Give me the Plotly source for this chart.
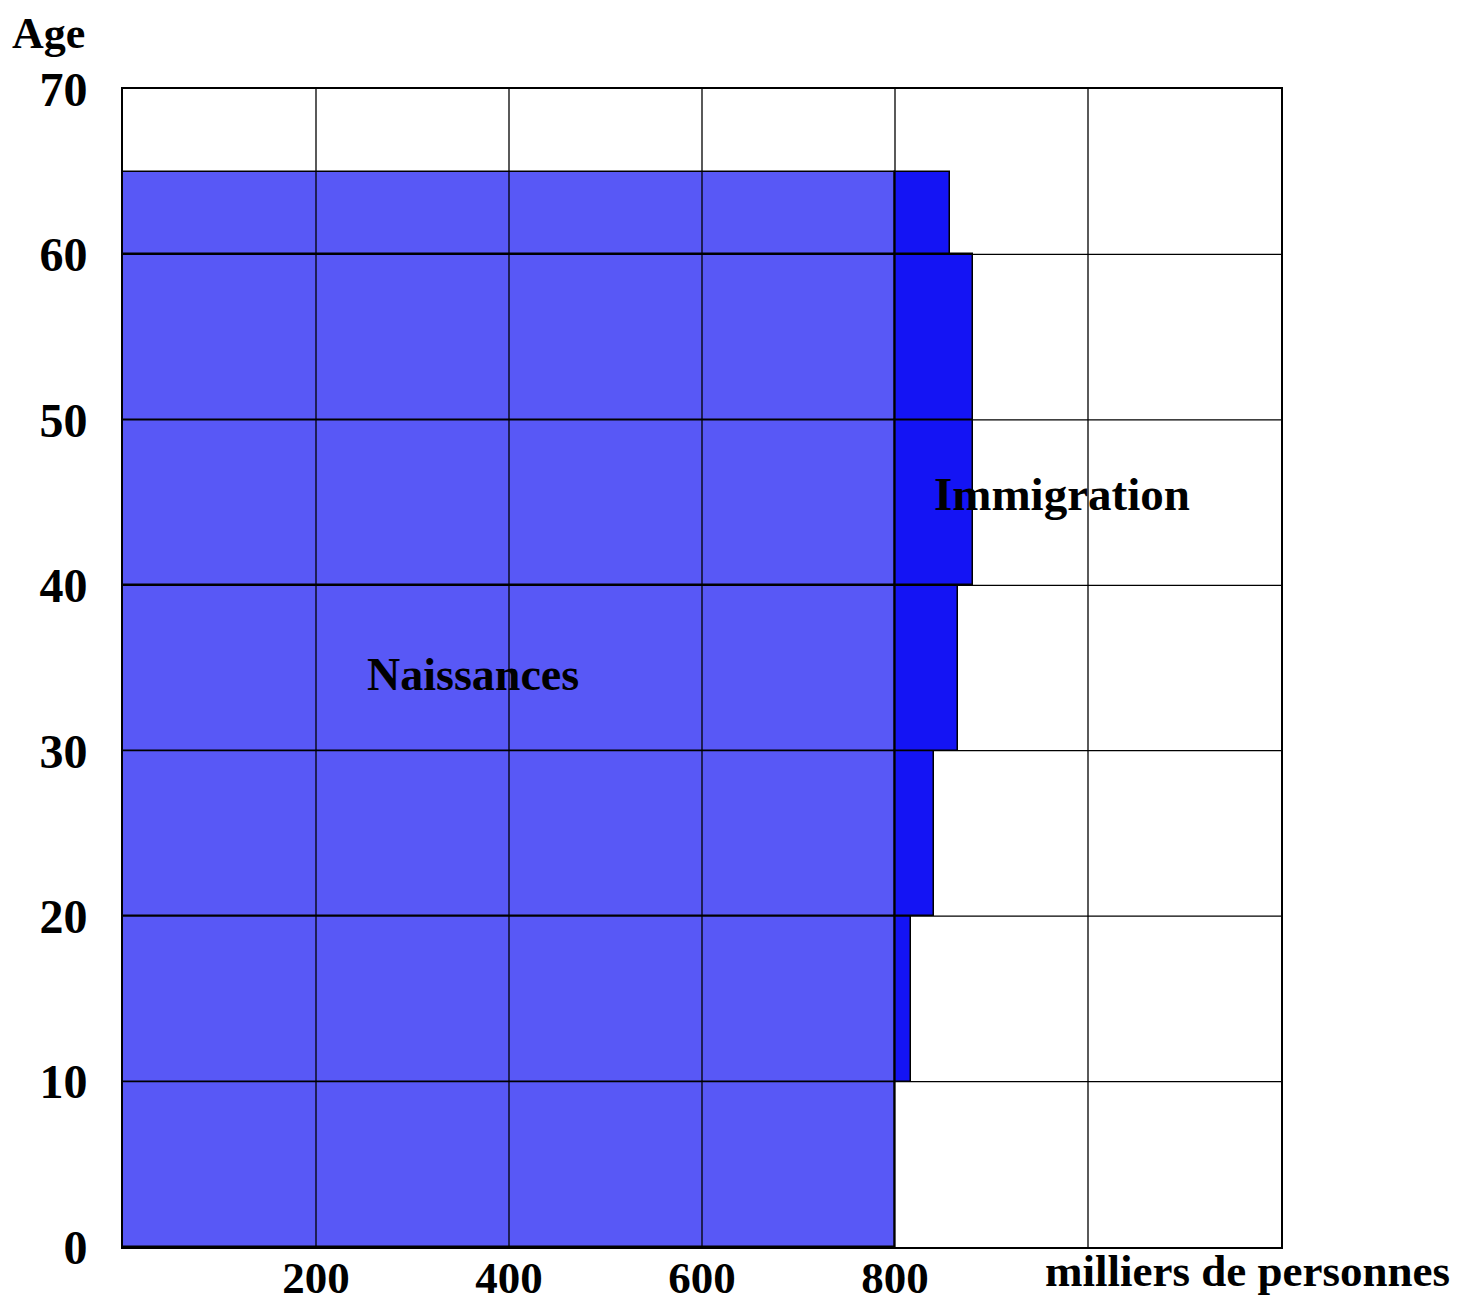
import plotly.graph_objects as go

# Age bands (lower, upper) in years
band_low = [0, 10, 20, 30, 40, 50, 60]
band_high = [10, 20, 30, 40, 50, 60, 65]
# thousands of persons
naissances = [800, 800, 800, 800, 800, 800, 800]
immigration = [0, 17, 40, 65, 81, 81, 57]

x_ticks = [200, 400, 600, 800]
x_grid = [200, 400, 600, 800, 1000]
y_ticks = [0, 10, 20, 30, 40, 50, 60, 70]

centers = [(a + b) / 2 for a, b in zip(band_low, band_high)]
widths = [b - a for a, b in zip(band_low, band_high)]

FONT = "Liberation Serif"

fig = go.Figure()
fig.add_trace(go.Bar(
    y=centers, x=naissances, width=widths, orientation="h",
    marker=dict(color="#5858F6", line=dict(color="#000000", width=1.5)),
    name="Naissances", hoverinfo="x+y",
))
fig.add_trace(go.Bar(
    y=centers, x=immigration, width=widths, orientation="h",
    base=naissances,
    marker=dict(color="#1414F4", line=dict(color="#000000", width=1.5)),
    name="Immigration", hoverinfo="x+y",
))

shapes = []
for gx in x_grid:
    shapes.append(dict(type="line", xref="x", yref="paper", x0=gx, x1=gx, y0=0, y1=1,
                       line=dict(color="black", width=1.3), layer="above"))
for gy in y_ticks[1:-1]:
    shapes.append(dict(type="line", xref="paper", yref="y", x0=0, x1=1, y0=gy, y1=gy,
                       line=dict(color="black", width=1.3), layer="above"))

fig.update_layout(
    width=1450, height=1297,
    margin=dict(l=115, r=177, t=81, b=58),
    paper_bgcolor="white", plot_bgcolor="white",
    barmode="overlay", bargap=0, showlegend=False,
    font=dict(family=FONT, size=48, color="black", weight="bold"),
    shapes=shapes,
    xaxis=dict(range=[0, 1200], tickvals=x_ticks, ticktext=[str(v) for v in x_ticks],
               showgrid=False, zeroline=False, showline=True, linecolor="black",
               linewidth=2, mirror=True, ticks="", ticklabelstandoff=-10, automargin=False,
               tickfont=dict(family=FONT, size=45, weight="bold")),
    yaxis=dict(range=[0, 70], tickvals=y_ticks, ticktext=[str(v) for v in y_ticks],
               showgrid=False, zeroline=False, showline=True, linecolor="black",
               linewidth=2, mirror=True, ticks="", ticklabelstandoff=24, automargin=False,
               tickfont=dict(family=FONT, size=48, weight="bold")),
    annotations=[
        dict(text="Age", xref="paper", yref="paper", x=-0.064, y=1.0475,
             showarrow=False, xanchor="center", yanchor="middle",
             font=dict(family=FONT, size=44, weight="bold")),
        dict(text="milliers de personnes", xref="paper", yref="paper", x=1.1477, y=-0.021,
             showarrow=False, xanchor="right", yanchor="middle",
             font=dict(family=FONT, size=45, weight="bold")),
        dict(text="Naissances", xref="x", yref="y", x=363, y=34.6,
             showarrow=False, font=dict(family=FONT, size=46, weight="bold")),
        dict(text="Immigration", xref="x", yref="y", x=973, y=45.5,
             showarrow=False, font=dict(family=FONT, size=47, weight="bold")),
    ],
)

fig.write_html("out.html")
